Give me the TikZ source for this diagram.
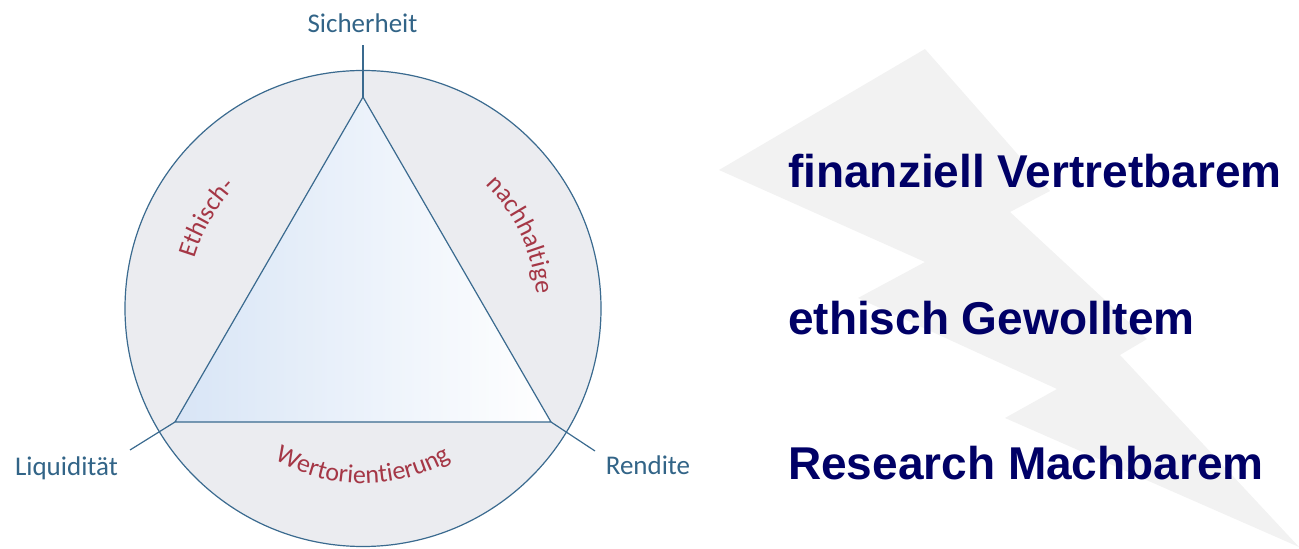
\documentclass[tikz,border=0pt]{standalone}
\usepackage{fontspec}
\setmainfont{Liberation Sans}
\newfontfamily\carlito{Carlito}
\usetikzlibrary{decorations.text,calc}
\definecolor{edgeblue}{RGB}{58,106,143}
\definecolor{lblblue}{RGB}{50,100,135}
\definecolor{lblred}{RGB}{165,55,70}
\definecolor{ringgray}{RGB}{235,236,240}
\definecolor{trileft}{RGB}{216,229,246}
\definecolor{boltgray}{RGB}{242,242,242}
\definecolor{claimnavy}{RGB}{0,0,102}
\newcommand\redlbl{\carlito\fontsize{26}{26}\selectfont\color{lblred}}
\begin{document}
\begin{tikzpicture}[x=1pt,y=1pt,
  edge/.style={draw=edgeblue, line width=1.2pt},
  corner/.style={font=\carlito\fontsize{27}{27}\selectfont, text=lblblue, inner sep=0pt, anchor=base},
  claim/.style={font=\bfseries\fontsize{46}{46}\selectfont, text=claimnavy, inner sep=0pt, anchor=base west}
]
\useasboundingbox (0,0) rectangle (1299,549);
% lightning bolt background
\fill[boltgray] (925,500) -- (1050,358) -- (1010,337) -- (1147,210) -- (1120,194) -- (1299,2)
  -- (1005,131) -- (1057,160) -- (858,251) -- (925,287) -- (719,379) -- cycle;

% circle and triangle
\coordinate (C) at (363,240.5);
\coordinate (A) at (363,452);
\coordinate (BL) at (175,127);
\coordinate (BR) at (551,127);
\coordinate (At) at (363,504);
\coordinate (BLt) at (130,99);
\coordinate (BRt) at (595,98);
\fill[ringgray] (C) circle[radius=238];
\shade[left color=trileft, right color=white] (A) -- (BL) -- (BR) -- cycle;
\draw[edge] (C) circle[radius=238];
\draw[edge, line join=miter] (A) -- (BL) -- (BR) -- cycle;
\draw[edge] (A) -- (At);
\draw[edge] (BL) -- (BLt);
\draw[edge] (BR) -- (BRt);

% corner labels
\node[corner] (sich) at (362.5,516) {Sicherheit};
\node[corner] (liq) at (66.5,73) {Liquidität};
\node[corner] (ren) at (648,74) {Rendite};

% curved labels
\path[decorate, decoration={text along path, text align=center, text={|\redlbl|Ethisch-}}]
  ($(C)+(175:176)$) arc[start angle=175, end angle=125, radius=176];
\path[decorate, decoration={text along path, text align=center, text={|\redlbl|nachhaltige}}]
  ($(C)+(55:174)$) arc[start angle=55, end angle=-5, radius=174];
\path[decorate, decoration={text along path, text align=center, text={|\redlbl|Wertorientierung}}]
  ($(C)+(230:175)$) arc[start angle=230, end angle=310, radius=175];

% claims
\node[claim] (fin) at (788,361) {finanziell Vertretbarem};
\node[claim] (eth) at (788,214) {ethisch Gewolltem};
\node[claim] (res) at (788,69) {Research Machbarem};
\end{tikzpicture}
\end{document}
